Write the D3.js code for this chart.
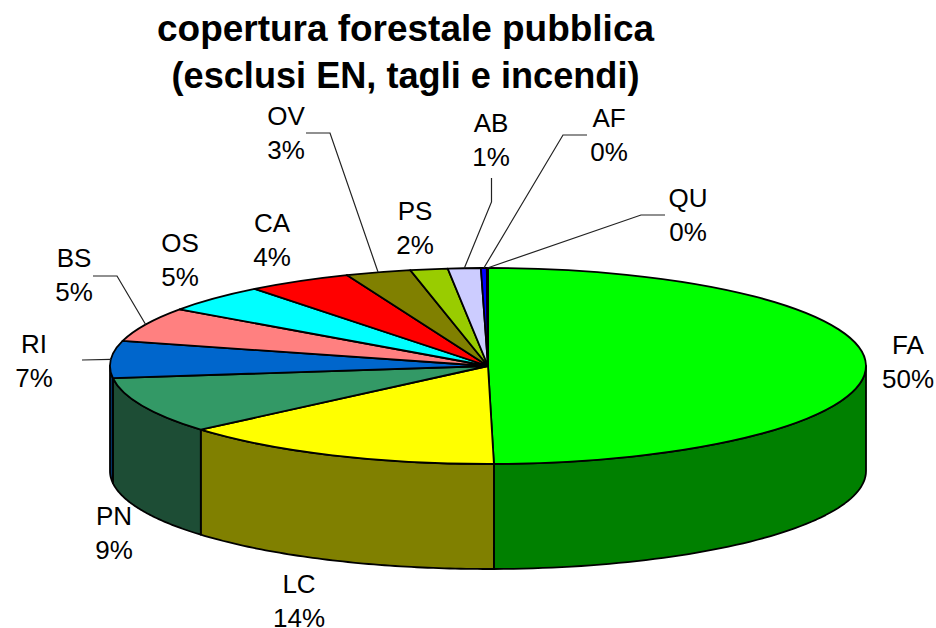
<!DOCTYPE html>
<html><head><meta charset="utf-8">
<script src="https://cdnjs.cloudflare.com/ajax/libs/d3/7.8.5/d3.min.js"></script>
<style>html,body{margin:0;padding:0;background:#fff}svg{display:block}text{font-family:"Liberation Sans",Arial,sans-serif;fill:#000}</style>
</head><body><svg id="c" width="936" height="628"></svg>
<script>
const titleLines = ["copertura forestale pubblica", "(esclusi EN, tagli e incendi)"];
const categories = ["FA","LC","PN","RI","BS","OS","CA","OV","PS","AB","AF","QU"];
const values = [49.8,14.0,9.3,6.1,5.7,4.6,4.5,2.8,1.6,1.4,0.25,0.05];
const percentLabels = ["50%","14%","9%","7%","5%","5%","4%","3%","2%","1%","0%","0%"];
const topColors = ["#00FF00","#FFFF00","#339966","#0066CC","#FF8080","#00FFFF","#FF0000","#808000","#99CC00","#CCCCFF","#0000FF","#000080"];
const sideColors = ["#008000","#808000","#1D4D35","#003366","#804040","#008080","#800000","#404000","#4D6600","#666680","#000080","#000040"];

const cx = 488, cy = 366, rx = 378, ry = 98, depth = 105;
const svg = d3.select("#c");
const slices = d3.pie().sort(null).value(d => d)(values);
const px = a => cx + rx * Math.sin(a), py = a => cy - ry * Math.cos(a);
const line = d3.line();

const titleWidths = [497, 468];
titleLines.forEach((t, i) => svg.append("text").attr("x", 405.5).attr("y", 41 + i * 47)
  .attr("text-anchor", "middle").attr("font-size", 37).attr("font-weight", "bold")
  .attr("textLength", titleWidths[i]).attr("lengthAdjust", "spacingAndGlyphs").text(t));

// side wall: the visible front half of the rim, extruded downward
const lo = Math.PI / 2, hi = 3 * Math.PI / 2;
slices.forEach((s, i) => {
  const a0 = Math.max(s.startAngle, lo), a1 = Math.min(s.endAngle, hi);
  if (a1 <= a0) return;
  const as = d3.range(0, 61).map(k => a0 + (a1 - a0) * k / 60);
  const pts = as.map(a => [px(a), py(a)]).concat(as.slice().reverse().map(a => [px(a), py(a) + depth]));
  svg.append("path").attr("d", line(pts) + "Z").attr("fill", sideColors[i])
    .attr("stroke", "#000").attr("stroke-width", 1.8).attr("stroke-linejoin", "round");
});

// top face
const arc = d3.arc().innerRadius(0).outerRadius(rx);
const topFace = svg.append("g").attr("transform", `translate(${cx},${cy}) scale(1,${ry / rx})`);
topFace.selectAll("path").data(slices).join("path").attr("d", arc)
  .attr("fill", (d, i) => topColors[i]).attr("stroke", "#000").attr("stroke-width", 1.8)
  .attr("stroke-linejoin", "round").attr("vector-effect", "non-scaling-stroke");

// label layout: text centre x, first baseline y, and the leader's elbow/end points
const labelLayout = {
  FA:{x:908,y:354}, LC:{x:299,y:593}, PN:{x:114,y:525}, RI:{x:34,y:353,leader:[[82,360]]},
  BS:{x:74,y:267,leader:[[117,276],[93,276]]}, OS:{x:180,y:252}, CA:{x:272,y:232},
  OV:{x:286,y:125,leader:[[330,133],[306,133]]}, PS:{x:415,y:219.5},
  AB:{x:491,y:132,leader:[[491.5,202],[491.5,178]]}, AF:{x:609,y:127,leader:[[563,135],[587,135]]},
  QU:{x:688,y:207,leader:[[641,215],[665,215]]}
};
slices.forEach((s, i) => {
  const L = labelLayout[categories[i]], mid = (s.startAngle + s.endAngle) / 2;
  if (L.leader) svg.append("path").attr("d", line([[px(mid), py(mid)], ...L.leader]))
    .attr("fill", "none").attr("stroke", "#222").attr("stroke-width", 1.2);
  [categories[i], percentLabels[i]].forEach((t, k) => svg.append("text").attr("x", L.x).attr("y", L.y + k * 34)
    .attr("text-anchor", "middle").attr("font-size", 26).text(t));
});
</script></body></html>
